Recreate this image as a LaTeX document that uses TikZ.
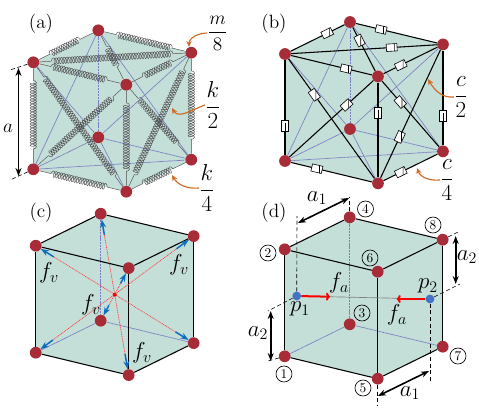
\documentclass[tikz,border=0pt]{standalone}
\usetikzlibrary{arrows.meta,backgrounds,calc,decorations.pathmorphing}
\definecolor{cubefill}{HTML}{C4DED8}
\definecolor{vertexred}{HTML}{A82C38}
\definecolor{hiddenblue}{HTML}{6468B8}
\definecolor{forceblue}{HTML}{0B6FBF}
\definecolor{pointblue}{HTML}{4472C4}
\definecolor{calloutorange}{HTML}{D2691E}
\tikzset{
  vertex/.style={circle,fill=vertexred,inner sep=0pt,minimum size=8.8pt},
  hidden/.style={hiddenblue!85,dash pattern=on 0.8pt off 0.3pt,line width=0.55pt},
  edge/.style={black,line width=0.8pt},
  spring/.style={black!70,line width=0.33pt,decorate,decoration={coil,aspect=0.5,amplitude=2.4pt,segment length=2pt,pre length=9pt,post length=9pt}},
  dashpot/.style={draw=black,fill=white,line width=0.45pt,inner sep=0pt,minimum width=8pt,minimum height=5.5pt,sloped,
    path picture={\draw[line width=0.45pt] ([xshift=2pt]path picture bounding box.north) -- ([xshift=2pt]path picture bounding box.south);}},
  panel/.style={font=\Large},
  lbl/.style={font=\LARGE,inner sep=0pt},
  callout/.style={->,>={Stealth[length=4.5pt,width=4pt]},calloutorange,line width=0.85pt},
  dimen/.style={<->,>={Stealth[length=6pt,width=4.5pt]},black,line width=1.2pt},
  guide/.style={black,dash pattern=on 3pt off 2pt,line width=0.45pt},
  fvarrow/.style={->,>={Stealth[length=6pt,width=4.5pt]},forceblue,line width=1.1pt},
  diag/.style={red!75,dash pattern=on 0.7pt off 0.6pt,line width=0.55pt},
  faarrow/.style={->,>={To[length=3pt,width=6pt]},red,line width=1.5pt},
  pointdot/.style={circle,fill=pointblue,inner sep=0pt,minimum size=6.6pt},
  numbered/.style={circle,draw=black,fill=none,line width=0.5pt,inner sep=0pt,minimum size=12pt,font=\normalsize},
}
% cube corners, #1 = prefix, (#2,#3) = upper left corner
\newcommand{\cubenodes}[3]{
  \node[vertex] (#12) at (#2,#3) {};
  \node[vertex] (#14) at (#2+65,#3-32) {};
  \node[vertex] (#18) at (#2+158,#3-9.6) {};
  \node[vertex] (#16) at (#2+93,#3+22.4) {};
  \node[vertex] (#11) at (#2,#3+107) {};
  \node[vertex] (#13) at (#2+65,#3+75) {};
  \node[vertex] (#17) at (#2+158,#3+97.4) {};
  \node[vertex] (#15) at (#2+93,#3+129.4) {};
  \begin{scope}[on background layer]
    \fill[cubefill] (#12.center) -- (#14.center) -- (#18.center) -- (#17.center) -- (#15.center) -- (#11.center) -- cycle;
  \end{scope}
}
\begin{document}
\begin{tikzpicture}[x=0.75pt,y=-0.75pt]
  \useasboundingbox (0,0) rectangle (479,412);
  % Panel (a)
  \cubenodes{a}{33.3}{62.3}
  \foreach \p/\q in {4/3,1/3,7/3,4/1,2/3,4/7,8/3,1/7,3/5}
    \draw[hidden] (a\p) -- (a\q);
  \foreach \p/\q in {2/4,4/8,8/7,2/1,1/5,5/7,6/5,2/6,6/8,2/8,4/6,2/5,6/1,6/7,8/5}
    \draw[spring] (a\p) -- (a\q);
  \node[panel] (panela) at (41,24) {(a)};
  \node[lbl,font=\Large] (mlabel) at (217.5,33) {$\displaystyle\frac{m}{8}$};
  \node[lbl] (klabelb) at (213,105) {$\displaystyle\frac{k}{2}$};
  \node[lbl] (klabelc) at (207,188) {$\displaystyle\frac{k}{4}$};
  \node[lbl,font=\Large] (alabel) at (8,128) {$a$};
  \coordinate (mtip) at (189,47);
  \coordinate (ktipb) at (172,108);
  \coordinate (ktipc) at (172,175);
  \draw[callout] (mlabel.west) to[out=180,in=90] (mtip);
  \draw[callout] (klabelb.west) to[out=200,in=-60] (ktipb);
  \draw[callout] (klabelc.west) to[out=185,in=-60] (ktipc);
  \coordinate (atop) at (10,70);
  \coordinate (abot) at (10,180);
  \draw[guide] (a2) -- (atop);
  \draw[guide] (a1) -- (abot);
  \coordinate (adimtop) at (18.5,68);
  \coordinate (adimbot) at (18.5,176);
  \draw[dimen] (adimtop) -- (adimbot);
  % Panel (b)
  \cubenodes{b}{285}{54}
  \foreach \p/\q in {4/3,1/3,7/3,4/1,2/3,4/7,8/3,1/7,3/5}
    \draw[hidden] (b\p) -- (b\q);
  \foreach \p/\q/\t in {2/4/0.68,4/8/0.31,8/7/0.69,2/1/0.69,1/5/0.32,5/7/0.32,6/5/0.32,2/6/0.68,6/8/0.32,2/8/0.69,4/6/0.3,2/5/0.3,6/1/0.32,6/7/0.32,8/5/0.68}
    \draw[edge] (b\p) -- node[dashpot,pos=\t] (damp\p\q) {} (b\q);
  \node[panel] (panelb) at (274,24) {(b)};
  \node[lbl] (clabelb) at (461,97) {$\displaystyle\frac{c}{2}$};
  \node[lbl] (clabelc) at (447,180) {$\displaystyle\frac{c}{4}$};
  \coordinate (ctipb) at (428,79);
  \coordinate (ctipc) at (417,168);
  \draw[callout] (clabelb.west) to[out=185,in=-60] (ctipb);
  \draw[callout] (clabelc.west) to[out=185,in=-70] (ctipc);
  % Panel (c)
  \cubenodes{c}{35.7}{245.7}
  \foreach \p/\q in {4/3,1/3,7/3}
    \draw[hidden] (c\p) -- (c\q);
  \foreach \p/\q in {2/4,4/8,8/7,2/1,1/5,5/7,6/5,2/6,6/8}
    \draw[edge] (c\p) -- (c\q);
  \foreach \p/\q in {4/5,2/7,8/1,6/3}
    \draw[diag] (c\p) -- (c\q);
  \node[circle,fill=red,inner sep=0pt,minimum size=3pt] (centre) at (114.7,294.7) {};
  \foreach \p/\q/\d in {4/5/16,5/4/16,2/7/16,7/2/16,8/1/16,1/8/16,6/3/13,3/6/13}
    \draw[fvarrow] ($(c\p)!\d pt!(c\q)$) -- (c\p);
  \node[panel] (panelc) at (41,213) {(c)};
  \node[lbl] (fva) at (49,273) {$f_v$};
  \node[lbl] (fvb) at (179,265) {$f_v$};
  \node[lbl] (fvc) at (91,305) {$f_v$};
  \node[lbl] (fvd) at (142,353) {$f_v$};
  % Panel (d)
  \cubenodes{d}{284.7}{249.3}
  \foreach \p/\q in {4/3,1/3,7/3}
    \draw[hidden] (d\p) -- (d\q);
  \foreach \p/\q in {2/4,4/8,8/7,2/1,1/5,5/7,6/5,2/6,6/8}
    \draw[edge] (d\p) -- (d\q);
  \node[pointdot] (p1) at (296.7,296) {};
  \node[pointdot] (p2) at (430,299) {};
  \draw[black!50,line width=0.5pt] (p1) -- (p2);
  \coordinate (fatipa) at (330,296.7);
  \coordinate (fatipb) at (396.7,299);
  \draw[faarrow] (p1) -- (fatipa);
  \draw[faarrow] (p2) -- (fatipb);
  \node[panel] (paneld) at (274,213) {(d)};
  \node[lbl] (faa) at (339,283) {$f_a$};
  \node[lbl] (fab) at (397,315) {$f_a$};
  \node[lbl] (pa) at (300,309) {$p_1$};
  \node[lbl] (pb) at (428,286) {$p_2$};
  % numbers
  \node[numbered] (na) at (284,374) {1};
  \node[numbered] (nb) at (268,253) {2};
  \node[numbered] (nc) at (362,313) {3};
  \node[numbered] (nd) at (365.5,209) {4};
  \node[numbered] (ne) at (363,388) {5};
  \node[numbered] (nf) at (370,258) {6};
  \node[numbered] (ng) at (458,356) {7};
  \node[numbered] (nh) at (433,225) {8};
  % dimension guides
  \coordinate (gpa) at (297,216);
  \coordinate (gt) at (349.7,197);
  \coordinate (gpb) at (268,311);
  \coordinate (gl) at (268,361);
  \coordinate (gr) at (460,231);
  \coordinate (gpc) at (460,284);
  \coordinate (gf) at (377.7,406);
  \coordinate (gpd) at (430,381);
  \draw[guide] (p1) -- (gpa);
  \draw[guide] (d4) -- (gt);
  \draw[guide] (p1) -- (gpb);
  \draw[guide] (d1) -- (gl);
  \draw[guide] (d8) -- (gr);
  \draw[guide] (p2) -- (gpc);
  \draw[guide] (d5) -- (gf);
  \draw[guide] (p2) -- (gpd);
  \coordinate (dima) at (298,223);
  \coordinate (dimb) at (349,198);
  \coordinate (dimc) at (270.7,311);
  \coordinate (dimd) at (270.7,361);
  \coordinate (dime) at (455.7,236);
  \coordinate (dimf) at (455.7,284);
  \coordinate (dimg) at (378,396);
  \coordinate (dimh) at (429,371);
  \draw[dimen] (dima) -- (dimb);
  \draw[dimen] (dimc) -- (dimd);
  \draw[dimen] (dime) -- (dimf);
  \draw[dimen] (dimg) -- (dimh);
  \node[lbl] (aa) at (317,198) {$a_1$};
  \node[lbl] (ab) at (258,333) {$a_2$};
  \node[lbl] (ac) at (467,257) {$a_2$};
  \node[lbl] (ad) at (410,393) {$a_1$};
\end{tikzpicture}
\end{document}
